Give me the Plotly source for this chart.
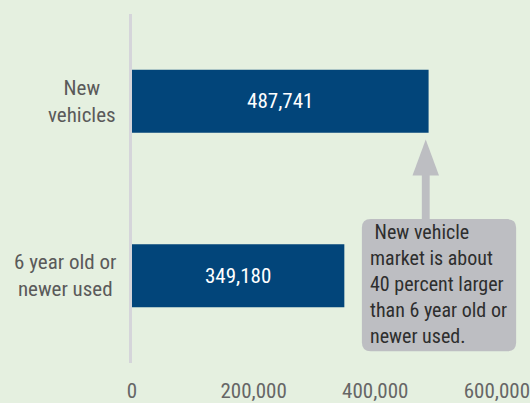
import plotly.graph_objects as go

# ---- data ----
categories = ["New vehicles", "6 year old or newer used"]
category_labels = ["New<br>vehicles", "6 year old or<br>newer used"]
values = [487741, 349180]
tick_values = [0, 200000, 400000, 600000]
tick_labels = ["0", "200,000", "400,000", "600,000"]
callout_lines = ["\u00a0New vehicle", "market is about", "40 percent larger",
                 "than 6 year old or", "newer used."]

# ---- style ----
FONT = "Liberation Sans Narrow, Arial Narrow, Roboto Condensed, Liberation Sans, sans-serif"
BG = "#e5f0e0"
BAR = "#02457a"
GREY_BOX = "#bdbec2"

W_TOTAL, H_TOTAL = 530, 403
L, T, R, B = 132, 14, 0, 30
PW, PH = W_TOTAL - L - R, H_TOTAL - T - B


def px_x(px):
    return (px - L) / PW


def px_y(py):
    return 1 - (py - T) / PH


fig = go.Figure()
fig.add_trace(go.Bar(
    y=categories, x=values, orientation="h",
    marker=dict(color=BAR, line=dict(width=0)),
    texttemplate="%{x:,}", textposition="inside", insidetextanchor="middle",
    textfont=dict(color="white", size=21, family=FONT),
    hoverinfo="skip",
))

# category labels (centered multi-line)
for cat, lab in zip(categories, category_labels):
    fig.add_annotation(
        x=px_x(118), xref="paper", y=cat, yref="y",
        text=lab, showarrow=False, xanchor="right", yanchor="middle",
        align="center", font=dict(size=21, color="#5a5a5a", family=FONT),
    )

# callout box (rounded rectangle)
x0, x1, y0, y1, r = 366, 523, 225, 361, 9
rx, ry = r / PW, r / PH
X0, X1, Y0, Y1 = px_x(x0), px_x(x1), px_y(y0), px_y(y1)
path = (f"M {X0+rx},{Y0} L {X1-rx},{Y0} Q {X1},{Y0} {X1},{Y0-ry} "
        f"L {X1},{Y1+ry} Q {X1},{Y1} {X1-rx},{Y1} L {X0+rx},{Y1} "
        f"Q {X0},{Y1} {X0},{Y1+ry} L {X0},{Y0-ry} Q {X0},{Y0} {X0+rx},{Y0} Z")
fig.add_shape(type="path", path=path, xref="paper", yref="paper",
              fillcolor=GREY_BOX, line=dict(width=0), layer="above")

# arrow shaft and head
fig.add_shape(type="rect", xref="paper", yref="paper",
              x0=px_x(427), x1=px_x(435), y0=px_y(179), y1=px_y(227),
              fillcolor=GREY_BOX, line=dict(width=0), layer="above")
fig.add_shape(type="path", xref="paper", yref="paper",
              path=f"M {px_x(431)},{px_y(143)} L {px_x(444.5)},{px_y(180)} L {px_x(417.5)},{px_y(180)} Z",
              fillcolor=GREY_BOX, line=dict(width=0), layer="above")

fig.add_annotation(
    x=px_x(372), xref="paper", y=px_y(292), yref="paper",
    text="<br>".join(callout_lines), showarrow=False,
    xanchor="left", yanchor="middle", align="left",
    font=dict(size=20, color="#2e2e2e", family=FONT),
)

fig.update_layout(
    width=W_TOTAL, height=H_TOTAL,
    margin=dict(l=L, r=R, t=T, b=B, pad=0),
    paper_bgcolor=BG, plot_bgcolor=BG,
    bargap=0.64, showlegend=False,
    font=dict(family=FONT),
)
fig.update_xaxes(
    range=[0, 643000], showgrid=False, zeroline=False, showline=False,
    tickmode="array", tickvals=tick_values, ticktext=tick_labels,
    ticks="outside", ticklen=9, tickcolor="rgba(0,0,0,0)",
    ticklabeloverflow="allow",
    tickfont=dict(size=21, color="#666666", family=FONT),
)
fig.update_yaxes(
    type="category", categoryorder="array", categoryarray=categories,
    range=[1.5, -0.5], showgrid=False, zeroline=False,
    showline=True, linecolor="#d5d5da", linewidth=3,
    showticklabels=False, ticks="",
)

fig.write_html(
    "out.html",
    config={"displayModeBar": False},
    post_script="document.body.style.margin='0';document.body.style.background='%s';" % BG,
)
